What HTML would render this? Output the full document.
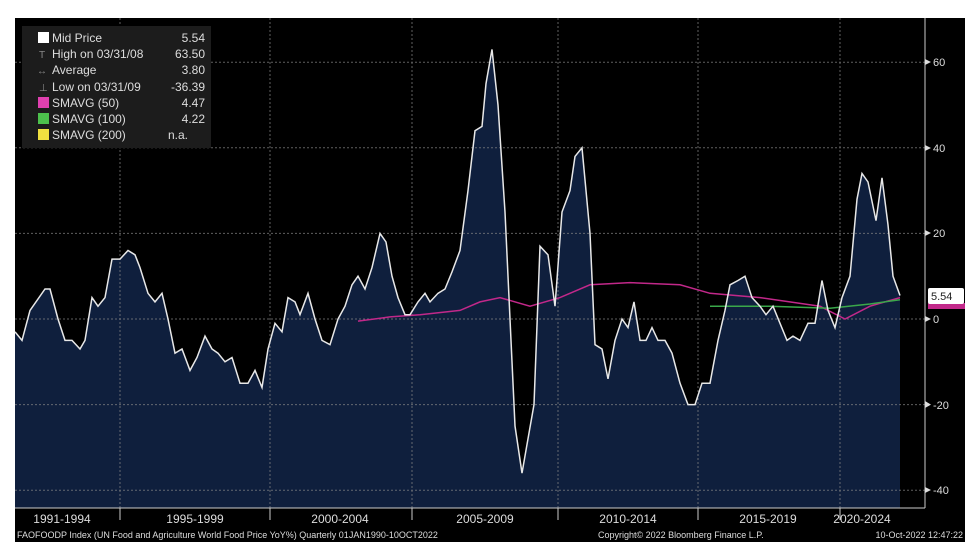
<!DOCTYPE html>
<html><head><style>
body{margin:0;background:#fff;width:974px;height:554px;overflow:hidden}
svg{display:block;font-family:"Liberation Sans",sans-serif}
</style></head><body>
<svg width="974" height="554" viewBox="0 0 974 554" xmlns="http://www.w3.org/2000/svg">
<rect x="15" y="18" width="950" height="524" fill="#000"/>
<polygon fill="#0f1f3d" points="15,508 15,331.8 22,340.4 30,310.4 45,289 50,289 58,319 65,340.4 72,340.4 80,349 85,340.4 92,297.6 98,306.2 105,297.6 112,259.1 120,259.1 128,250.5 135,254.8 140,267.6 148,293.3 155,301.9 162,293.3 168,319 175,353.2 182,349 190,370.4 197,357.5 205,336.1 212,349 218,353.2 225,361.8 232,357.5 240,383.2 248,383.2 255,370.4 262,387.5 268,349 275,323.3 282,331.8 288,297.6 295,301.9 300,314.7 308,293.3 315,319 322,340.4 330,344.7 338,319 345,306.2 352,284.8 358,276.2 365,289 372,267.6 380,233.4 386,242 392,276.2 398,297.6 405,314.7 410,314.7 418,301.9 425,293.3 430,301.9 438,293.3 445,289 452,271.9 460,250.5 468,190.6 475,130.7 482,126.4 486,83.6 492,49.4 498,105 505,212 512,361.8 515,426 522,473.1 528,438.8 534,404.6 540,246.2 548,254.8 555,306.2 562,212 570,190.6 575,156.4 582,147.8 590,233.4 595,344.7 602,349 608,378.9 615,340.4 622,319 628,327.6 634,301.9 640,340.4 646,340.4 652,327.6 658,340.4 665,340.4 672,353.2 680,383.2 688,404.6 695,404.6 702,383.2 710,383.2 718,340.4 725,310.4 730,284.8 738,280.5 745,276.2 752,297.6 760,306.2 766,314.7 773,306.2 780,323.3 787,340.4 793,336.1 800,340.4 808,323.3 815,323.3 822,280.5 828,310.4 835,327.6 842,297.6 850,276.2 857,199.2 862,173.5 868,182 876,220.6 882,177.8 888,224.8 893,276.2 900,295.5 900,508"/>
<g stroke="#888" stroke-width="1" stroke-dasharray="2,2" opacity="0.7">
<line x1="15" x2="925" y1="62.2" y2="62.2"/><line x1="15" x2="925" y1="147.8" y2="147.8"/><line x1="15" x2="925" y1="233.4" y2="233.4"/><line x1="15" x2="925" y1="319" y2="319"/><line x1="15" x2="925" y1="404.6" y2="404.6"/><line x1="15" x2="925" y1="490.2" y2="490.2"/>
<line x1="120" x2="120" y1="18" y2="508"/><line x1="270" x2="270" y1="18" y2="508"/><line x1="412" x2="412" y1="18" y2="508"/><line x1="558" x2="558" y1="18" y2="508"/><line x1="698" x2="698" y1="18" y2="508"/><line x1="840" x2="840" y1="18" y2="508"/>
</g>
<g stroke="#ccc"><line x1="120" x2="120" y1="508" y2="520"/><line x1="270" x2="270" y1="508" y2="520"/><line x1="412" x2="412" y1="508" y2="520"/><line x1="558" x2="558" y1="508" y2="520"/><line x1="698" x2="698" y1="508" y2="520"/><line x1="840" x2="840" y1="508" y2="520"/></g>
<polyline fill="none" stroke="#c2288a" stroke-width="1.5" points="358,321.1 390,316.9 420,314.7 460,310.4 480,301.9 500,297.6 530,306.2 560,297.6 590,284.8 630,282.6 680,284.8 710,293.3 760,297.6 820,306.2 845,319 870,306.2 900,297.6"/>
<polyline fill="none" stroke="#3aa84a" stroke-width="1.5" points="710,306.2 770,306.2 830,308.3 870,304 900,299.7"/>
<polyline fill="none" stroke="#e8e8e8" stroke-width="1.5" points="15,331.8 22,340.4 30,310.4 45,289 50,289 58,319 65,340.4 72,340.4 80,349 85,340.4 92,297.6 98,306.2 105,297.6 112,259.1 120,259.1 128,250.5 135,254.8 140,267.6 148,293.3 155,301.9 162,293.3 168,319 175,353.2 182,349 190,370.4 197,357.5 205,336.1 212,349 218,353.2 225,361.8 232,357.5 240,383.2 248,383.2 255,370.4 262,387.5 268,349 275,323.3 282,331.8 288,297.6 295,301.9 300,314.7 308,293.3 315,319 322,340.4 330,344.7 338,319 345,306.2 352,284.8 358,276.2 365,289 372,267.6 380,233.4 386,242 392,276.2 398,297.6 405,314.7 410,314.7 418,301.9 425,293.3 430,301.9 438,293.3 445,289 452,271.9 460,250.5 468,190.6 475,130.7 482,126.4 486,83.6 492,49.4 498,105 505,212 512,361.8 515,426 522,473.1 528,438.8 534,404.6 540,246.2 548,254.8 555,306.2 562,212 570,190.6 575,156.4 582,147.8 590,233.4 595,344.7 602,349 608,378.9 615,340.4 622,319 628,327.6 634,301.9 640,340.4 646,340.4 652,327.6 658,340.4 665,340.4 672,353.2 680,383.2 688,404.6 695,404.6 702,383.2 710,383.2 718,340.4 725,310.4 730,284.8 738,280.5 745,276.2 752,297.6 760,306.2 766,314.7 773,306.2 780,323.3 787,340.4 793,336.1 800,340.4 808,323.3 815,323.3 822,280.5 828,310.4 835,327.6 842,297.6 850,276.2 857,199.2 862,173.5 868,182 876,220.6 882,177.8 888,224.8 893,276.2 900,295.5"/>
<line x1="925" x2="925" y1="18" y2="508" stroke="#ccc"/>
<line x1="15" x2="925" y1="508" y2="508" stroke="#ccc"/>
<g fill="#ddd" font-size="11">
<polygon points="925,59 931,62 925,65"/><text x="933" y="66">60</text>
<polygon points="925,145 931,148 925,151"/><text x="933" y="152">40</text>
<polygon points="925,230 931,233 925,236"/><text x="933" y="237">20</text>
<polygon points="925,316 931,319 925,322"/><text x="933" y="323">0</text>
<polygon points="925,401 931,404.6 925,408"/><text x="933" y="409">-20</text>
<polygon points="925,487 931,490 925,493"/><text x="933" y="494">-40</text>
</g>
<rect x="928" y="303" width="37" height="6" fill="#c2288a"/>
<rect x="928" y="288" width="36" height="16" fill="#fff" rx="2"/>
<text x="931" y="300" font-size="11" fill="#222">5.54</text>
<g fill="#ddd" font-size="12" text-anchor="middle">
<text x="62" y="523">1991-1994</text><text x="195" y="523">1995-1999</text><text x="340" y="523">2000-2004</text><text x="485" y="523">2005-2009</text><text x="628" y="523">2010-2014</text><text x="768" y="523">2015-2019</text><text x="862" y="523">2020-2024</text>
</g>
<g fill="#ddd" font-size="9">
<text x="17" y="538">FAOFOODP Index (UN Food and Agriculture World Food Price YoY%)  Quarterly 01JAN1990-10OCT2022</text>
<text x="598" y="538">Copyright© 2022 Bloomberg Finance L.P.</text>
<text x="963" y="538" text-anchor="end">10-Oct-2022 12:47:22</text>
</g>
<rect x="22" y="26" width="189" height="122" fill="#1c1c1c"/>
<g font-size="12" fill="#ddd">
<rect x="38" y="32" width="11" height="11" fill="#fff"/><text x="52" y="42">Mid Price</text><text x="205" y="42" text-anchor="end">5.54</text>
<text x="39" y="58" fill="#888" font-size="10">T</text><text x="52" y="58">High on 03/31/08</text><text x="205" y="58" text-anchor="end">63.50</text>
<text x="37" y="74" fill="#888" font-size="10">↔</text><text x="52" y="74">Average</text><text x="205" y="74" text-anchor="end">3.80</text>
<text x="39" y="91" fill="#888" font-size="10">⊥</text><text x="52" y="91">Low on 03/31/09</text><text x="205" y="91" text-anchor="end">-36.39</text>
<rect x="38" y="97" width="11" height="11" fill="#e040b0"/><text x="52" y="107">SMAVG (50)</text><text x="205" y="107" text-anchor="end">4.47</text>
<rect x="38" y="113" width="11" height="11" fill="#4cc04c"/><text x="52" y="123">SMAVG (100)</text><text x="205" y="123" text-anchor="end">4.22</text>
<rect x="38" y="129" width="11" height="11" fill="#f0e040"/><text x="52" y="139">SMAVG (200)</text><text x="188" y="139" text-anchor="end">n.a.</text>
</g>
</svg>
</body></html>
